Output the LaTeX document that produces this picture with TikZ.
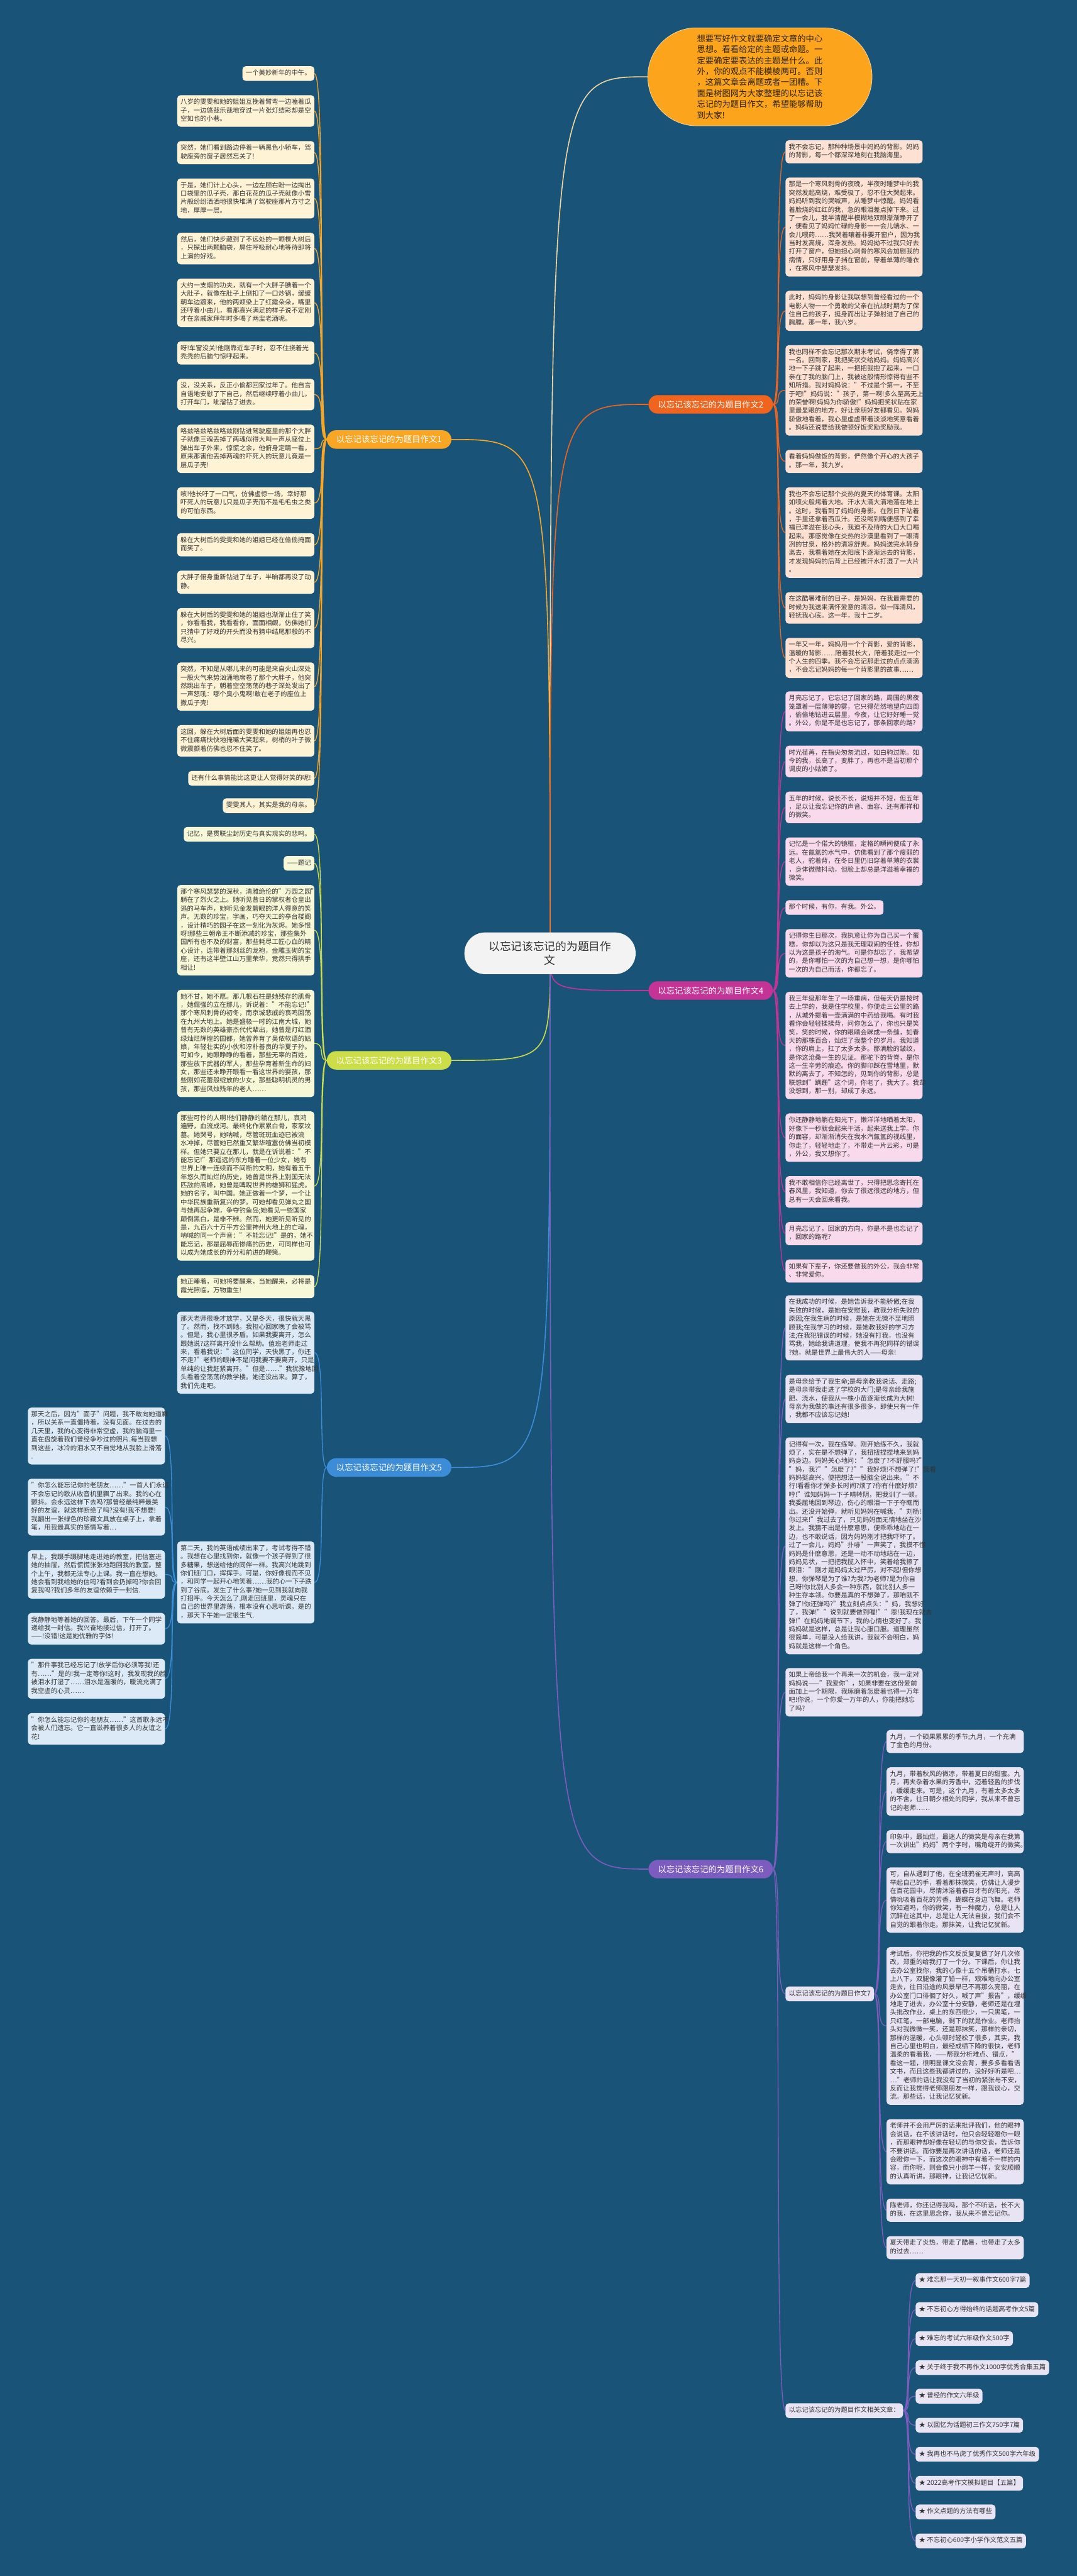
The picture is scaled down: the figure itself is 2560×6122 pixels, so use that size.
\documentclass[tikz,border=0pt]{standalone}
\usepackage{fontspec}
\setmainfont{Noto Sans CJK SC}
\pgfdeclarelayer{bg}\pgfdeclarelayer{edges}
\pgfsetlayers{bg,edges,main}
\definecolor{bgc}{RGB}{25,83,120}
\definecolor{c1}{RGB}{248,166,36}
\definecolor{c2}{RGB}{240,100,30}
\definecolor{c3}{RGB}{205,221,72}
\definecolor{c4}{RGB}{196,52,150}
\definecolor{c5}{RGB}{60,140,215}
\definecolor{c6}{RGB}{124,92,190}
\definecolor{l1}{RGB}{255,243,214}
\definecolor{l2}{RGB}{253,226,211}
\definecolor{l3}{RGB}{247,248,215}
\definecolor{l4}{RGB}{248,218,236}
\definecolor{l5}{RGB}{220,234,247}
\definecolor{l6}{RGB}{232,228,244}
\definecolor{txt}{RGB}{51,51,51}
\definecolor{bub}{RGB}{251,164,28}
\definecolor{bubtxt}{RGB}{45,35,15}
\definecolor{bubline}{RGB}{240,215,160}
\definecolor{rootc}{RGB}{243,243,243}
\tikzset{
  leaf/.style={rounded corners=8pt, inner xsep=8pt, inner ysep=7.5pt, font=\fontsize{15.5}{20}\selectfont, text=txt, align=left, execute at begin node=\strut, execute at end node=\strut},
  wleaf/.style={leaf, text width=310pt},
  lft/.style={anchor=north east},
  rgt/.style={anchor=north west},
  branch/.style={rounded corners=22pt, minimum width=296pt, minimum height=44pt, font=\fontsize{20}{24}\selectfont, text=white, inner sep=0pt},
  link/.style={line width=2pt},
  rlink/.style={line width=2.4pt},
}
\newcommand\lk[3]{\draw[link,#1] (#2.west) .. controls +(-22,0) and +(28,0) .. (#3.east);}
\newcommand\rk[3]{\draw[link,#1] (#2.east) .. controls +(22,0) and +(-28,0) .. (#3.west);}
\begin{document}
\begin{tikzpicture}[x=1pt,y=-1pt]
\begin{pgfonlayer}{bg}
\fill[bgc] (0,0) rectangle (2560,6122);
\end{pgfonlayer}
\useasboundingbox (0,0) rectangle (2560,6122);

% root and bubble
\node[rounded corners=49pt, fill=rootc, minimum width=407pt, minimum height=99pt, font=\fontsize{26.5}{34}\selectfont, text=txt, align=center, inner sep=0pt] (root) at (1307.5,2265.5) {以忘记该忘记的为题目作\\文};
\node[rounded corners=116pt, fill=bub, draw=bubline, line width=1.2pt, minimum width=533pt, minimum height=233pt, font=\fontsize{19.9}{26}\selectfont, text=bubtxt, text width=299pt, align=left, inner sep=0pt] (bubble) at (1806.5,182.5) {想要写好作文就要确定文章的中心\\思想。看看给定的主题或命题。一\\定要确定要表达的主题是什么。此\\外，你的观点不能模棱两可。否则\\，这篇文章会离题或者一团糟。下\\面是树图网为大家整理的以忘记该\\忘记的为题目作文，希望能够帮助\\到大家!};

% branch nodes
\node[branch, fill=c1] (n1) at (925,1044.5) {以忘记该忘记的为题目作文1};
\node[branch, fill=c2] (n2) at (1689.5,961) {以忘记该忘记的为题目作文2};
\node[branch, fill=c3] (n3) at (925,2520) {以忘记该忘记的为题目作文3};
\node[branch, fill=c4] (n4) at (1689.5,2354) {以忘记该忘记的为题目作文4};
\node[branch, fill=c5] (n5) at (925,3487.5) {以忘记该忘记的为题目作文5};
\node[branch, fill=c6] (n6) at (1689.5,4442) {以忘记该忘记的为题目作文6};

% branch 1
\node[leaf, fill=l1, lft] (a1) at (747.5,157) {一个美妙新年的中午。};
\node[wleaf, fill=l1, lft] (a2) at (747.5,226) {八岁的雯雯和她的姐姐互挽着臂弯一边嗑着瓜\\子，一边悠哉乐哉地穿过一片张灯结彩却是空\\空如也的小巷。};
\node[wleaf, fill=l1, lft] (a3) at (747.5,335) {突然，她们看到路边停着一辆黑色小轿车，驾\\驶座旁的窗子居然忘关了!};
\node[wleaf, fill=l1, lft] (a4) at (747.5,424) {于是，她们计上心头，一边左顾右盼一边掏出\\口袋里的瓜子壳，那白花花的瓜子壳就像小雪\\片般纷纷洒洒地很快堆满了驾驶座那片方寸之\\地，厚厚一层。};
\node[wleaf, fill=l1, lft] (a5) at (747.5,553) {然后，她们快步藏到了不远处的一颗棵大树后\\，只探出两颗脑袋，屏住呼吸耐心地等待即将\\上演的好戏。};
\node[wleaf, fill=l1, lft] (a6) at (747.5,662) {大约一支烟的功夫，就有一个大胖子腆着一个\\大肚子，就像在肚子上倒扣了一口炒锅，缓缓\\朝车边踱来，他的两颊染上了红霞朵朵，嘴里\\还哼着小曲儿，看那高兴满足的样子说不定刚\\才在亲戚家拜年时多喝了两盅老酒呢。};
\node[wleaf, fill=l1, lft] (a7) at (747.5,811) {呀!车窗没关!他刚靠近车子时，忍不住挠着光\\秃秃的后脑勺惊呼起来。};
\node[wleaf, fill=l1, lft] (a8) at (747.5,900) {没，没关系，反正小偷都回家过年了。他自言\\自语地安慰了下自己，然后继续哼着小曲儿，\\打开车门，呲溜钻了进去。};
\node[wleaf, fill=l1, lft] (a9) at (747.5,1009) {咯兹咯兹咯兹咯兹刚钻进驾驶座里的那个大胖\\子就像三魂丢掉了两魂似得大叫一声从座位上\\弹出车子外来，惊慌之余，他俯身定睛一看，\\原来那害他丢掉两魂的吓死人的玩意儿竟是一\\层瓜子壳!};
\node[wleaf, fill=l1, lft] (a10) at (747.5,1158) {咳!他长吁了一口气，仿佛虚惊一场，幸好那\\吓死人的玩意儿只是瓜子壳而不是毛毛虫之类\\的可怕东西。};
\node[wleaf, fill=l1, lft] (a11) at (747.5,1267) {躲在大树后的雯雯和她的姐姐已经在偷偷掩面\\而笑了。};
\node[wleaf, fill=l1, lft] (a12) at (747.5,1356) {大胖子俯身重新钻进了车子，半晌都再没了动\\静。};
\node[wleaf, fill=l1, lft] (a13) at (747.5,1445) {躲在大树后的雯雯和她的姐姐也渐渐止住了笑\\，你看看我，我看看你，面面相觑，仿佛她们\\只猜中了好戏的开头而没有猜中结尾那般的不\\尽兴。};
\node[wleaf, fill=l1, lft] (a14) at (747.5,1574) {突然，不知是从哪儿来的可能是来自火山深处\\一股火气来势汹涌地席卷了那个大胖子，他突\\然跳出车子，朝着空空荡荡的巷子深处发出了\\一声怒吼：哪个臭小鬼啊!敢在老子的座位上\\撒瓜子壳!};
\node[wleaf, fill=l1, lft] (a15) at (747.5,1723) {这回，躲在大树后面的雯雯和她的姐姐再也忍\\不住痛痛快快地掩嘴大笑起来，树梢的叶子微\\微震颤着仿佛也忍不住笑了。};
\node[leaf, fill=l1, lft] (a16) at (747.5,1832) {还有什么事情能比这更让人觉得好笑的呢!};
\node[leaf, fill=l1, lft] (a17) at (747.5,1897) {雯雯其人，其实是我的母亲。};

% branch 3
\node[leaf, fill=l3, lft] (c1) at (747.5,1965) {记忆，是贯联尘封历史与真实现实的悲鸣。};
\node[leaf, fill=l3, lft] (c2) at (747.5,2034) {——题记};
\node[wleaf, fill=l3, lft] (c3) at (747.5,2103) {那个寒风瑟瑟的深秋，清雅绝伦的"万园之园"\\躺在了烈火之上。她听见昔日的掌权者仓皇出\\逃的马车声，她听见金发碧眼的洋人得意的笑\\声。无数的珍宝，字画，巧夺天工的亭台楼阁\\，设计精巧的园子在这一刻化为灰烬。她多恨\\呀!那些三朝帝王不断添减的珍宝，那些集外\\国所有也不及的财富，那些耗尽工匠心血的精\\心设计，连带着那刻丝的龙袍，金雕玉砌的宝\\座，还有这半壁江山万里荣华，竟然只得拱手\\相让!};
\node[wleaf, fill=l3, lft] (c4) at (747.5,2352) {她不甘，她不愿。那几根石柱是她残存的肌骨\\，她倔强的立在那儿，诉说着："不能忘记!"\\那个寒风刺骨的初冬，南京城悲戚的哀鸣回荡\\在九州大地上。她是盛极一时的江南大城，她\\曾有无数的英雄豪杰代代辈出，她曾是灯红酒\\绿灿烂辉煌的国都，她曾养育了吴侬软语的姑\\娘，年轻壮实的小伙和淳朴善良的华夏子孙。\\可如今，她眼睁睁的看着，那些无辜的百姓，\\那些放下武器的军人，那些孕育着新生命的妇\\女，那些还未睁开眼看一看这世界的婴孩，那\\些刚如花蕾般绽放的少女，那些聪明机灵的男\\孩，那些风烛残年的老人……};
\node[wleaf, fill=l3, lft] (c5) at (747.5,2641) {那些可怜的人啊!他们静静的躺在那儿，哀鸿\\遍野，血流成河。最终化作累累白骨，家家坟\\墓。她哭号，她呐喊，尽管斑斑血迹已被流\\水冲掉，尽管她已然重又繁华喧嚣仿佛当初模\\样。但她只要立在那儿，就是在诉说着："不\\能忘记!"那遥远的东方睡着一位少女，她有\\世界上唯一连续而不间断的文明，她有着五千\\年悠久而灿烂的历史，她曾是世界上别国无法\\匹敌的高峰，她曾是睥睨世界的雄狮和猛虎。\\她的名字，叫中国。她正做着一个梦，一个让\\中华民族重新复兴的梦。可她却看见弹丸之国\\与她再起争端，争夺钓鱼岛;她看见一些国家\\颠倒黑白，是非不辨。然而，她更听见听见的\\是，九百六十万平方公里神州大地上的亡魂，\\呐喊的同一个声音："不能忘记!"是的，她不\\能忘记，那是屈辱而惨痛的历史，可同样也可\\以成为她成长的养分和前进的鞭策。};
\node[wleaf, fill=l3, lft] (c6) at (747.5,3030) {她正睡着，可她将要醒来，当她醒来，必将是\\霞光照临，万物重生!};

% branch 5
\node[wleaf, fill=l5, lft] (e1) at (747.5,3117) {那天老师很晚才放学，又是冬天，很快就天黑\\了。然而，找不到她。我担心回家晚了会被骂\\。但是，我心里很矛盾。如果我要离开，怎么\\跟她说?这样离开没什么帮助。值班老师走过\\来，看着我说："这位同学，天快黑了，你还\\不走?"老师的眼神不是问我要不要离开，只是\\单纯的让我赶紧离开。"但是……"我犹豫地回\\头看着空荡荡的教学楼。她还没出来。算了，\\我们先走吧。};
\node[wleaf, fill=l5, lft] (e2) at (747.5,3663) {第二天，我的英语成绩出来了，考试考得不错\\。我想在心里找到你，就像一个孩子得到了很\\多糖果，想送给他的同伴一样。我高兴地跳到\\你们班门口，挥挥手。可是，你好像视而不见\\，和同学一起开心地笑着……我的心一下子跌\\到了谷底。发生了什么事?她一见到我就向我\\打招呼。今天怎么了.刚走回班里，灵魂只在\\自己的世界里游荡，根本没有心思听课。是的\\，那天下午她一定很生气.};
\node[wleaf, fill=l5, lft] (f1) at (392.5,3345) {那天之后，因为"面子"问题，我不敢向她道歉\\，所以关系一直僵持着，没有见面。在过去的\\几天里，我的心变得非常空虚，我的脑海里一\\直在盘旋着我们曾经争吵过的照片.每当我想\\到这些，冰冷的泪水又不自觉地从我脸上滑落\\.};
\node[wleaf, fill=l5, lft] (f2) at (392.5,3514) {"你怎么能忘记你的老朋友……"一首人们永远\\不会忘记的歌从收音机里飘了出来。我的心在\\颤抖。会永远这样下去吗?那曾经最纯粹最美\\好的友谊，就这样断绝了吗?没有!我不想要!\\我翻出一张绿色的珍藏文具放在桌子上，拿着\\笔，用我最真实的感情写着…};
\node[wleaf, fill=l5, lft] (f3) at (392.5,3684) {早上，我蹑手蹑脚地走进她的教室，把信塞进\\她的抽屉，然后慌慌张张地跑回我的教室。整\\个上午，我都无法专心上课。我一直在想她。\\她会看到我给她的信吗?看到会扔掉吗?你会回\\复我吗?我们多年的友谊依赖于一封信.};
\node[wleaf, fill=l5, lft] (f4) at (392.5,3833) {我静静地等着她的回答。最后，下午一个同学\\递给我一封信。我兴奋地接过信，打开了。\\——!没错!这是她优雅的字体!};
\node[wleaf, fill=l5, lft] (f5) at (392.5,3942) {"那件事我已经忘记了!放学后你必须等我!还\\有……"是的!我一定等你!这时，我发现我的脸\\被泪水打湿了……泪水是温暖的，暖流充满了\\我空虚的心灵……};
\node[wleaf, fill=l5, lft] (f6) at (392.5,4071) {"你怎么能忘记你的老朋友……"这首歌永远不\\会被人们遗忘。它一直滋养着很多人的友谊之\\花!};

% branch 2
\node[wleaf, fill=l2, rgt] (b1) at (1867,333) {我不会忘记，那种种场景中妈妈的背影。妈妈\\的背影，每一个都深深地刻在我脑海里。};
\node[wleaf, fill=l2, rgt] (b2) at (1867,422) {那是一个寒风刺骨的夜晚，半夜时睡梦中的我\\突然发起高烧，难受极了，忍不住大哭起来。\\妈妈听到我的哭喊声，从睡梦中惊醒。妈妈看\\着脸烧的红红的我，急的眼泪差点掉下来。过\\了一会儿，我半清醒半模糊地双眼渐渐睁开了\\，便看见了妈妈忙碌的身影一一会儿端水、一\\会儿喂药……我哭着嚷着非要开窗户，因为我\\当时发高烧，浑身发热。妈妈拗不过我只好去\\打开了窗户，但她担心刺骨的寒风会加剧我的\\病情，只好用身子挡在窗前，穿着单薄的睡衣\\，在寒风中瑟瑟发抖。};
\node[wleaf, fill=l2, rgt] (b3) at (1867,691) {此时，妈妈的身影让我联想到曾经看过的一个\\电影人物一一个勇敢的父亲在抗战时期为了保\\住自己的孩子，挺身而出让子弹射进了自己的\\胸膛。那一年，我六岁。};
\node[wleaf, fill=l2, rgt] (b4) at (1867,820) {我也同样不会忘记那次期末考试，侥幸得了第\\一名。回到家，我把奖状交给妈妈。妈妈高兴\\地一下子跳了起来，一把把我抱了起来，一口\\亲在了我的脑门上，我被这般情形惊得有些不\\知所措。我对妈妈说："不过是个第一，不至\\于吧!"妈妈说："孩子，第一啊!多么至高无上\\的荣誉啊!妈妈为你骄傲!"妈妈把奖状贴在家\\里最显眼的地方，好让亲朋好友都看见。妈妈\\骄傲地看着，我心里虚虚带着淡淡地笑意看着\\。妈妈还说要给我做顿好饭奖励奖励我。};
\node[wleaf, fill=l2, rgt] (b5) at (1867,1069) {看着妈妈做饭的背影，俨然像个开心的大孩子\\。那一年，我九岁。};
\node[wleaf, fill=l2, rgt] (b6) at (1867,1158) {我也不会忘记那个炎热的夏天的体育课。太阳\\如喷火般烤着大地。汗水大滴大滴地落在地上\\。这时，我看到了妈妈的身影。在烈日下站着\\，手里还拿着西瓜汁。还没喝到嘴便感到了幸\\福已洋溢在我心头，我迫不及待的大口大口喝\\起来。那感觉像在炎热的沙漠里看到了一眼清\\冽的甘泉，格外的清凉舒爽。妈妈送完水转身\\离去，我看着她在太阳底下逐渐远去的背影，\\才发现妈妈的后背上已经被汗水打湿了一大片\\。};
\node[wleaf, fill=l2, rgt] (b7) at (1867,1407) {在这酷暑难耐的日子，是妈妈，在我最需要的\\时候为我送来满怀爱意的清凉，似一阵清风，\\轻抚我心底。这一年，我十二岁。};
\node[wleaf, fill=l2, rgt] (b8) at (1867,1516) {一年又一年，妈妈用一个个背影，爱的背影，\\温暖的背影……陪着我长大，陪着我走过一个\\个人生的四季。我不会忘记那走过的点点滴滴\\，不会忘记妈妈的每一个背影里的故事……};

% branch 4
\node[wleaf, fill=l4, rgt] (d1) at (1867,1643) {月亮忘记了，它忘记了回家的路，周围的黑夜\\笼罩着一层薄薄的雾，它只得茫然地望向四周\\，偷偷地钻进云层里，今夜，让它好好睡一觉\\。外公，你是不是也忘记了，那条回家的路?};
\node[wleaf, fill=l4, rgt] (d2) at (1867,1772) {时光荏苒，在指尖匆匆流过，如白驹过隙。如\\今的我，长高了，变胖了，再也不是当初那个\\调皮的小姑娘了。};
\node[wleaf, fill=l4, rgt] (d3) at (1867,1881) {五年的时候，说长不长，说短并不短，但五年\\，足以让我忘记你的声音、面容、还有那祥和\\的微笑。};
\node[wleaf, fill=l4, rgt] (d4) at (1867,1990) {记忆是一个偌大的镜框，定格的瞬间便成了永\\远。在氤氲的水气中，仿佛看到了那个瘦弱的\\老人，驼着背，在冬日里仍旧穿着单薄的衣裳\\，身体微微抖动，但脸上却总是洋溢着幸福的\\微笑。};
\node[leaf, fill=l4, rgt] (d5) at (1867,2139) {那个时候，有你，有我。外公。};
\node[wleaf, fill=l4, rgt] (d6) at (1867,2208) {记得你生日那次，我执意让你为自己买一个蛋\\糕，你却以为这只是我无理取闹的任性，你却\\以为这是孩子的淘气。可是你却忘了，我希望\\的，是你哪怕一次的为自己想一想，是你哪怕\\一次的为自己而活，你都忘了。};
\node[wleaf, fill=l4, rgt] (d7) at (1867,2357) {我三年级那年生了一场重病，但每天仍是按时\\去上学的，我是住学校里，你便走三公里的路\\，从城外提着一壶满满的中药给我喝。有时我\\看你会轻轻揉揉背，问你怎么了，你也只是笑\\笑，笑的时候，你的眼睛会眯成一条缝，如春\\天的那株百合，灿烂了我整个的岁月。我知道\\，你的肩上，扛了太多太多。那满脸的皱纹，\\是你这沧桑一生的见证。那驼下的背脊，是你\\这一生辛劳的痕迹。你的脚印踩在雪地里，默\\默的离去了，不知怎的，见到你的背影，总是\\联想到"蹒跚"这个词，你老了，我大了。我却\\没想到，那一别，却成了永远。};
\node[wleaf, fill=l4, rgt] (d8) at (1867,2646) {你还静静地躺在阳光下，懒洋洋地晒着太阳，\\好像下一秒就会起来干活，起来送我上学。你\\的面容，却渐渐消失在我水汽氤氲的视线里，\\你走了，轻轻地走了，不带走一片云彩，可是\\，外公，我又想你了。};
\node[wleaf, fill=l4, rgt] (d9) at (1867,2795) {我不敢相信你已经离世了，只得把思念寄托在\\春风里，我知道，你去了很远很远的地方，但\\总有一天会回来看我。};
\node[wleaf, fill=l4, rgt] (d10) at (1867,2904) {月亮忘记了，回家的方向，你是不是也忘记了\\，回家的路呢?};
\node[wleaf, fill=l4, rgt] (d11) at (1867,2993) {如果有下辈子，你还要做我的外公，我会非常\\、非常爱你。};

% branch 6
\node[wleaf, fill=l6, rgt] (g1) at (1867,3078) {在我成功的时候，是她告诉我不能骄傲;在我\\失败的时候，是她在安慰我，教我分析失败的\\原因;在我生病的时候，是她在无微不至地照\\顾我;在我学习的时候，是她教我好的学习方\\法;在我犯错误的时候，她没有打我，也没有\\骂我，她给我讲道理，使我不再犯同样的错误\\?她，就是世界上最伟大的人——母亲!};
\node[wleaf, fill=l6, rgt] (g2) at (1867,3267) {是母亲给予了我生命;是母亲教我说话、走路;\\是母亲带我走进了学校的大门;是母亲给我施\\肥、浇水，使我从一株小苗逐渐长成为大树!\\母亲为我做的事还有很多很多，即使只有一件\\，我都不应该忘记她!};
\node[wleaf, fill=l6, rgt] (g3) at (1867,3416) {记得有一次，我在练琴。刚开始练不久，我就\\烦了，实在是不想弹了，我扭扭捏捏地来到妈\\妈身边。妈妈关心地问："怎麽了?不舒服吗?"\\"妈，我?""怎麽了?""我好烦!不想弹了!"我看\\妈妈挺高兴，便把想法一股脑全说出来。"不\\行!看看你才弹多长时间?烦了?你有什麽好烦?\\哼!"谁知妈妈一下子晴转阴，把我训了一顿。\\我委屈地回到琴边，伤心的眼泪一下子夺眶而\\出。还没开始弹，就听见妈妈在喊我，"刘杨!\\你过来!"我过去了，只见妈妈面无情地坐在沙\\发上。我猜不出是什麽意思，便乖乖地站在一\\边，也不敢说话，因为妈妈刚才把我吓坏了。\\过了一会儿，妈妈"扑哧"一声笑了，我摸不懂\\妈妈是什麽意思，还是一动不动地站在一边，\\妈妈见状，一把把我揽入怀中，笑着给我擦了\\眼泪："刚才是妈妈太过严厉，对不起!但你想\\想，你弹琴是为了谁?为我?为老师?是为你自\\己呀!你比别人多会一种东西，就比别人多一\\种生存本领。你要是真的不想弹了，那咱就不\\弹了!你还弹吗?"我立刻点点头："妈，我想好\\了，我弹!""说到就要做到喔!""恩!我现在就去\\弹!"在妈妈地调节下，我的心情也变好了。我\\妈妈就是这样，总是让我心服口服。道理虽然\\很简单，可是没人给我讲，我就不会明白，妈\\妈就是这样一个角色。};
\node[wleaf, fill=l6, rgt] (g4) at (1867,3964) {如果上帝给我一个再来一次的机会，我一定对\\妈妈说——"我爱你"，如果非要在这份爱前\\面加上一个期限，我琢磨着怎麽着也得一万年\\吧!你说，一个你爱一万年的人，你能把她忘\\了吗?};
\node[leaf, fill=l6, rgt, anchor=west] (g5) at (1867,4738.5) {以忘记该忘记的为题目作文7};
\node[leaf, fill=l6, rgt, anchor=west] (g6) at (1867,5729) {以忘记该忘记的为题目作文相关文章：};

\node[wleaf, fill=l6, rgt] (h1) at (2107.5,4111) {九月，一个硕果累累的季节;九月，一个充满\\了金色的月份。};
\node[wleaf, fill=l6, rgt] (h2) at (2107.5,4200) {九月，带着秋风的微凉，带着夏日的甜蜜。九\\月，再夹杂着水果的芳香中，迈着轻盈的步伐\\，缓缓走来。可是，这个九月，有着太多太多\\的不舍，往日朝夕相处的同学，我从来不曾忘\\记的老师……};
\node[wleaf, fill=l6, rgt] (h3) at (2107.5,4349) {印象中，最灿烂，最迷人的微笑是母亲在我第\\一次讲出"妈妈"两个字时，嘴角绽开的微笑。};
\node[wleaf, fill=l6, rgt] (h4) at (2107.5,4438) {可，自从遇到了他，在全班鸦雀无声时，高高\\举起自己的手，看着那抹微笑，仿佛让人漫步\\在百花园中，尽情沐浴着春日才有的阳光，尽\\情吮吸着百花的芳香，蝴蝶在身边飞舞。老师\\你知道吗，你的微笑，有一种魔力，总是让人\\沉醉在这其中，总是让人无法自拔，我们会不\\自觉的跟着你走。那抹笑，让我记忆犹新。};
\node[wleaf, fill=l6, rgt] (h5) at (2107.5,4627) {考试后，你把我的作文反反复复做了好几次修\\改，郑重的给我打了一个分。下课后，你让我\\去办公室找你，我的心像十五个吊桶打水，七\\上八下，双腿像灌了铅一样，艰难地向办公室\\走去，往日沿途的风景早已不再那么亮丽，在\\办公室门口徘徊了好久，喊了声"报告"，缓缓\\地走了进去，办公室十分安静，老师还是在埋\\头批改作业，桌上的东西很少，一只黑笔，一\\只红笔，一部电脑，剩下的就是作业。老师抬\\头对我微微一笑，还是那抹笑，那样的亲切，\\那样的温暖，心头顿时轻松了很多，其实，我\\自己心里也明白，最经成绩下降的很快，老师\\温柔的看着我，——帮我分析难点、错点，"\\看这一题，很明显课文没会背，要多多看看语\\文书，而且这些我都讲过的，没好好听是吧…\\…"老师的话让我没有了当初的紧张与不安，\\反而让我觉得老师跟朋友一样，跟我谈心，交\\流。那些话，让我记忆犹新。};
\node[wleaf, fill=l6, rgt] (h6) at (2107.5,5036) {老师并不会用严厉的话来批评我们，他的眼神\\会说话，在不该讲话时，他只会轻轻瞪你一眼\\，而那眼神却好像在轻切的与你交谈，告诉你\\不要讲话。而你要是再次讲话的话，老师还是\\会瞪你一下，而这次的眼神中有着不一样的内\\容，而你呢，则会像只小绵羊一样，安安顺顺\\的认真听讲。那眼神，让我记忆忧新。};
\node[wleaf, fill=l6, rgt] (h7) at (2107.5,5225) {陈老师，你还记得我吗，那个不听话，长不大\\的我，在这里思念你，我从来不曾忘记你。};
\node[wleaf, fill=l6, rgt] (h8) at (2107.5,5314) {夏天带走了炎热，带走了酷暑，也带走了太多\\的过去……};

\node[leaf, fill=l6, rgt] (k1) at (2176.5,5402) {★ 难忘那一天初一叙事作文600字7篇};
\node[leaf, fill=l6, rgt] (k2) at (2176.5,5471) {★ 不忘初心方得始终的话题高考作文5篇};
\node[leaf, fill=l6, rgt] (k3) at (2176.5,5540) {★ 难忘的考试六年级作文500字};
\node[leaf, fill=l6, rgt] (k4) at (2176.5,5609) {★ 关于终于我不再作文1000字优秀合集五篇};
\node[leaf, fill=l6, rgt] (k5) at (2176.5,5677) {★ 曾经的作文六年级};
\node[leaf, fill=l6, rgt] (k6) at (2176.5,5746) {★ 以回忆为话题初三作文750字7篇};
\node[leaf, fill=l6, rgt] (k7) at (2176.5,5815) {★ 我再也不马虎了优秀作文500字六年级};
\node[leaf, fill=l6, rgt] (k8) at (2176.5,5884) {★ 2022高考作文模拟题目【五篇】};
\node[leaf, fill=l6, rgt] (k9) at (2176.5,5952) {★ 作文点题的方法有哪些};
\node[leaf, fill=l6, rgt] (k10) at (2176.5,6021) {★ 不忘初心600字小学作文范文五篇};

\begin{pgfonlayer}{edges}
\draw[rlink, bubline] (root.center) .. controls (1307.5,182.5) .. (bubble.west);
\draw[rlink, c1] (root.center) .. controls (1307.5,1044.5) .. (n1.east);
\draw[rlink, c2] (root.center) .. controls (1307.5,961) .. (n2.west);
\draw[rlink, c3] (root.center) .. controls (1307.5,2520) .. (n3.east);
\draw[rlink, c4] (root.center) .. controls (1307.5,2354) .. (n4.west);
\draw[rlink, c5] (root.center) .. controls (1307.5,3487.5) .. (n5.east);
\draw[rlink, c6] (root.center) .. controls (1307.5,4442) .. (n6.west);
\foreach \i in {1,...,17} {\lk{c1}{n1}{a\i}}
\foreach \i in {1,...,6} {\lk{c3}{n3}{c\i}}
\foreach \i in {1,2} {\lk{c5}{n5}{e\i}}
\foreach \i in {1,...,6} {\lk{c5}{e2}{f\i}}
\foreach \i in {1,...,8} {\rk{c2}{n2}{b\i}}
\foreach \i in {1,...,11} {\rk{c4}{n4}{d\i}}
\foreach \i in {1,...,6} {\rk{c6}{n6}{g\i}}
\foreach \i in {1,...,8} {\rk{c6}{g5}{h\i}}
\foreach \i in {1,...,10} {\rk{c6}{g6}{k\i}}
\end{pgfonlayer}
\end{tikzpicture}
\end{document}
